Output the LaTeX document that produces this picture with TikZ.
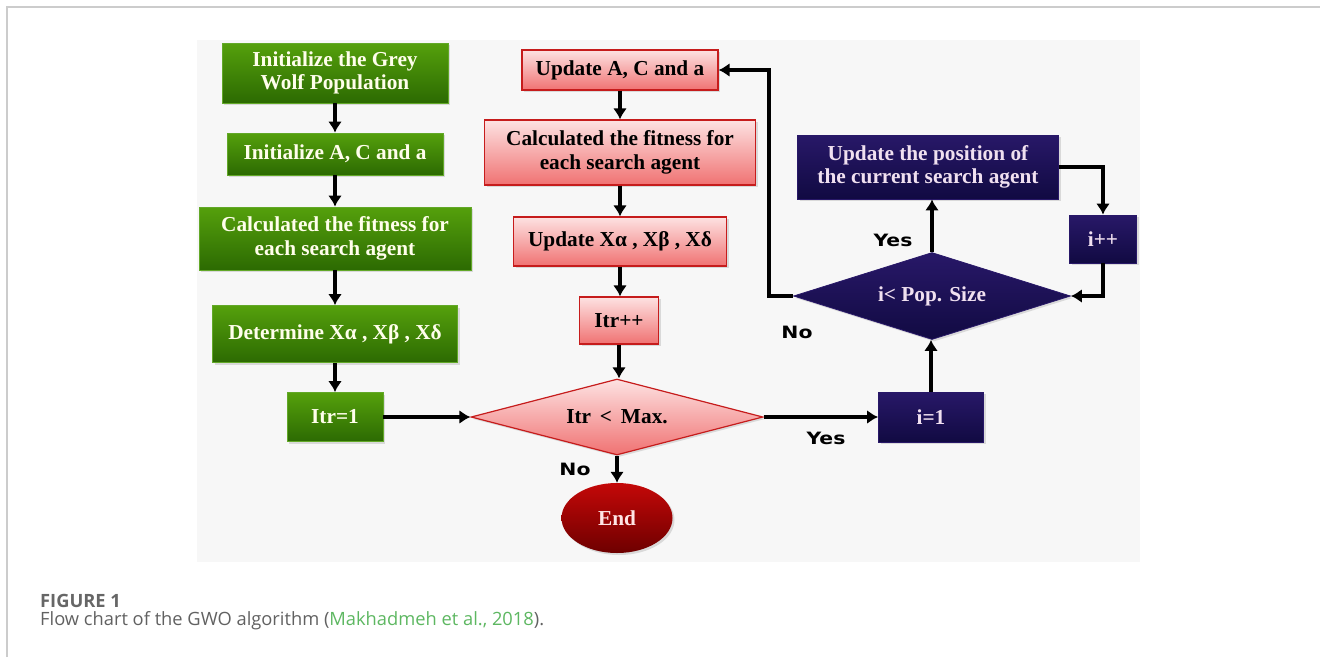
\documentclass[tikz,border=0pt]{standalone}
\usepackage{fontspec}
\usetikzlibrary{shapes.geometric,arrows.meta,shadows}
\newfontfamily\boxfont{Liberation Serif}
\newfontfamily\capfont{Open Sans}
\newfontfamily\tagfont[FakeStretch=1.2]{DejaVu Sans}
\definecolor{greentop}{HTML}{55A00C}
\definecolor{greenbot}{HTML}{2C6A02}
\definecolor{greenedge}{HTML}{62A828}
\definecolor{pinktop}{HTML}{FDE2E2}
\definecolor{pinkbot}{HTML}{F07272}
\definecolor{pinkedge}{HTML}{C61C1C}
\definecolor{navytop}{HTML}{281868}
\definecolor{navybot}{HTML}{110A42}
\definecolor{endtop}{HTML}{C40808}
\definecolor{endbot}{HTML}{6E0000}
\definecolor{panelgray}{HTML}{F7F7F7}
\definecolor{framegray}{HTML}{CCCCCC}
\definecolor{citegreen}{HTML}{5DB761}
\begin{document}
\begin{tikzpicture}[
          x=1pt, y=-1pt,
          boxtext/.style={font=\boxfont\fontsize{21.3}{23.5}\selectfont\bfseries, align=center, inner sep=0pt},
          greenbox/.style={boxtext, rectangle, draw=greenedge, line width=0.8pt, top color=greentop, bottom color=greenbot, text=white!92!yellow,
                drop shadow={shadow xshift=2pt, shadow yshift=-2pt, opacity=0.25}},
          pinkbox/.style={boxtext, rectangle, draw=pinkedge, line width=1.2pt, top color=pinktop, bottom color=pinkbot, text=black,
                drop shadow={shadow xshift=2pt, shadow yshift=-2pt, opacity=0.25}},
          navybox/.style={boxtext, rectangle, draw=navytop, line width=0.8pt, top color=navytop, bottom color=navybot, text=white!88!violet,
                drop shadow={shadow xshift=2pt, shadow yshift=-2pt, opacity=0.25}},
          arr/.style={-{Latex[length=11pt, width=14pt]}, line width=4.6pt, black},
          tag/.style={font=\tagfont\fontsize{17}{19}\selectfont\bfseries, inner sep=0pt}
        ]

        % frame and panel
        \useasboundingbox (0,0) rectangle (1320,657);
        \draw[framegray, line width=1.5pt] (7,657) -- (7,7) -- (1320,7);
        \fill[panelgray] (197,40) rectangle (1140,562);

        % left column
        \node[greenbox, minimum width=226, minimum height=60] (init) at (335,73) {Initialize the Grey\\Wolf Population};
        \node[greenbox, minimum width=216, minimum height=42] (initAC) at (335,154) {Initialize A, C and a};
        \node[greenbox, minimum width=272, minimum height=63] (fitA) at (335,238.5) {Calculated the fitness for\\each search agent};
        \node[greenbox, minimum width=245, minimum height=57] (detX) at (335,334) {Determine Xα , Xβ , Xδ};
        \node[greenbox, minimum width=96, minimum height=49] (itrOne) at (335,417) {Itr=1};

        % middle column
        \node[pinkbox, minimum width=196, minimum height=40] (updAC) at (620,70) {Update A, C and a};
        \node[pinkbox, minimum width=271, minimum height=65] (fitB) at (620,152.5) {Calculated the fitness for\\each search agent};
        \node[pinkbox, minimum width=213, minimum height=49] (updX) at (620,241.5) {Update Xα , Xβ , Xδ};
        \node[pinkbox, minimum width=79, minimum height=47] (itrInc) at (619,320.5) {Itr++};
        \node[pinkbox, diamond, minimum width=292, minimum height=76, shape aspect=3.8] (itrChk) at (617,417) {Itr \,<\, Max.};
        \node[boxtext, ellipse, minimum width=111, minimum height=70, top color=endtop, bottom color=endbot, text=white!90!red,
              drop shadow={shadow xshift=2pt, shadow yshift=-2pt, opacity=0.25}] (endN) at (617,518) {End};

        % right column
        \node[navybox, minimum width=105, minimum height=50] (iOne) at (931,417) {i=1};
        \node[navybox, diamond, minimum width=277, minimum height=87, shape aspect=3.2] (popChk) at (932,296) {i< Pop. Size};
        \node[navybox, minimum width=261, minimum height=64] (updPos) at (928,167) {Update the position of\\the current search agent};
        \node[navybox, minimum width=67, minimum height=48] (iInc) at (1103,239) {i++};

        \draw[arr] (init) -- (initAC);
        \draw[arr] (initAC) -- (fitA);
        \draw[arr] (fitA) -- (detX);
        \draw[arr] (detX) -- (itrOne);
        \draw[arr] (itrOne) -- (itrChk.west);
        \draw[arr] (updAC) -- (fitB);
        \draw[arr] (fitB) -- (updX);
        \draw[arr] (updX) -- (updX |- itrInc.north);
        \draw[arr] (itrInc) -- (itrInc |- itrChk.north);
        \draw[arr] (itrChk.south) -- (endN);
        \draw[arr] (itrChk.east) -- (iOne.west);
        \draw[arr] (iOne) -- (iOne |- popChk.south);
        \draw[arr] (popChk.north) -- (popChk.north |- updPos.south);
        \draw[arr] (updPos.east) -| (iInc.north);
        \draw[arr] (iInc.south) |- (popChk.east);
        \draw[arr] (popChk.west) -- ++(-24,0) |- (updAC.east);

        \node[tag] (noEnd) at (575,469) {No};
        \node[tag] (yesOne) at (826,438) {Yes};
        \node[tag] (yesPos) at (893,240) {Yes};
        \node[tag] (noBack) at (797,332) {No};

        % caption
        \node[anchor=base west, inner sep=0pt, font=\capfont\fontsize{18.3}{22}\selectfont\bfseries, text=black!60] (figTag) at (40,607) {FIGURE 1};
        \node[anchor=base west, inner sep=0pt, font=\capfont\fontsize{18.3}{22}\selectfont, text=black!62] (figCap) at (40,625)
            {Flow chart of the GWO algorithm (\textcolor{citegreen}{Makhadmeh et al., 2018}).};

        \end{tikzpicture}
\end{document}
